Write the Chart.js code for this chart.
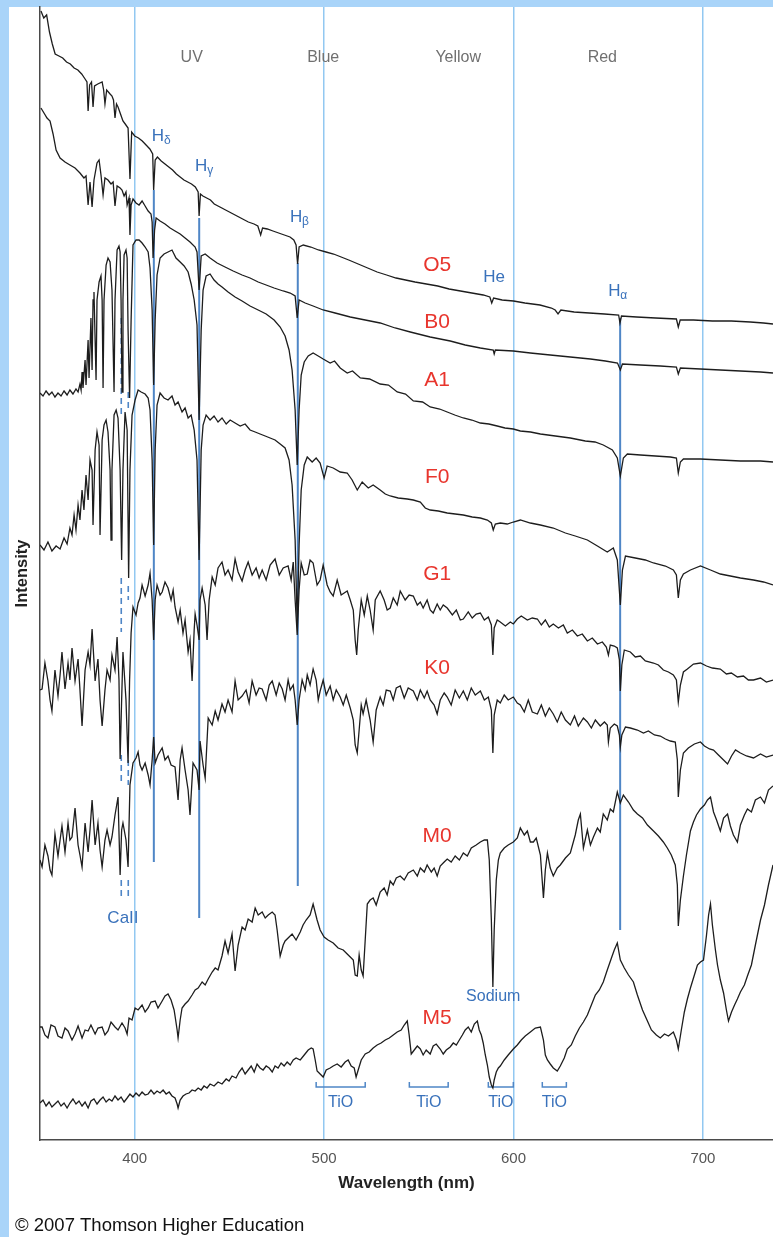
<!DOCTYPE html>
<html>
<head>
<meta charset="utf-8">
<script src="https://cdn.jsdelivr.net/npm/chart.js@4.4.1/dist/chart.umd.min.js"></script>
<style>
html,body{margin:0;padding:0;background:#fff}
#wrap{width:773px;height:1237px;position:relative}
</style>
</head>
<body>
<div id="wrap"><canvas id="c"></canvas></div>
<script>
const FONT = '"Liberation Sans", Arial, Helvetica, sans-serif';

// x axis ticks (nm)
const wavelengthTicks = [400, 500, 600, 700];

// spectra, [wavelength nm, relative intensity]
const o5 = [[350.5,1129],[352,1122],[353.5,1125],[355,1108],[356.5,1096],[358,1086],[360,1084],[362,1082],[364,1078],[366,1076],[368,1072],[370,1070],[372,1066],[373.8,1061],[374.8,1058],[375.4,1029],[376.2,1055],[377.2,1058],[378,1033],[378.8,1054],[380.5,1056],[382.8,1058],[383.6,1050],[384.3,1036],[385.2,1050],[387,1046],[388,1044],[388.8,1040],[389.6,1022],[390.4,1036],[391.2,1033],[392.5,1026],[393.8,1019],[395,1016],[396.5,1012],[397.5,961],[398.4,1008],[400,1004],[402,1002],[404,999],[406,995],[408,991],[409.5,986],[410,950],[410.8,980],[412,983],[414,979],[416,976],[418,973],[420,970],[422,966],[424,963],[426,960],[428,958],[430,956],[432,953],[433.5,948],[434,924],[434.7,946],[436,944],[438,942],[440,940],[442,936],[445,933],[448,930],[451,927],[454,924],[457,921],[460,918],[463,916],[465,914],[466.5,905],[467.5,912],[470,911],[473,909],[476,907],[479,905],[482,903],[484,900],[485.2,895],[486,876],[486.8,893],[489,895],[493,893],[497,890],[501,888],[505,886],[509,883],[513,880],[518,876],[523,872],[528,868],[533,865],[538,862],[543,860],[548,858],[554,856],[560,854],[566,851],[572,849],[578,847],[584,845],[587.5,843],[588.5,837],[589.5,842],[594,840],[600,839],[606,837],[614,835],[620,832],[622,830],[623.5,826],[625,830],[632,828],[640,827],[648,826],[655.5,825],[656.2,817],[657,824],[665,823],[675,822],[686,821],[687,813],[688,820],[695,820],[705,819],[715,819],[725,818],[732,817],[737,816]];

const b0 = [[350.5,1032],[352.1,1027],[353.7,1022],[355.3,1019],[356.9,1006],[358.5,990],[360.6,982],[363.2,978],[365.8,975],[368.5,972],[371.1,967],[373.2,962],[374.3,964],[375.4,935],[376.4,958],[377.5,933],[378.5,960],[380.1,977],[381.2,980],[382.2,965],[383.3,945],[384.3,962],[385.9,960],[387.5,956],[388.6,958],[389.6,934],[390.7,954],[392.3,952],[393.3,950],[394.4,944],[395.4,948],[396,935],[397,942],[397.5,905],[398.1,935],[399.1,941],[400.7,937],[402.3,935],[403.9,939],[405.5,934],[407.1,929],[408.6,926],[409.2,918],[409.7,882],[410.5,910],[411.3,922],[413.4,919],[416,916],[418.7,912],[421.3,909],[424,906],[426.6,902],[429.2,898],[431.9,893],[432.9,888],[434,850],[435.1,884],[437.2,886],[439.8,882],[443.5,877],[447.7,873],[452,869],[456.7,865],[460.9,862],[465.2,858],[469.4,855],[473.6,852],[478.4,849],[482.1,847],[484.7,844],[485.8,822],[486.8,840],[490,837],[494.2,834],[499.5,830],[505.8,827],[513.8,823],[521.7,820],[529.6,817],[537.5,812],[545.5,808],[556,803],[566.6,799],[574.5,795],[582.5,792],[589.3,790],[589.8,786],[590.4,790],[599.9,789],[608.9,787],[619.4,785],[630,783],[640.6,781],[648.5,779],[654.9,777],[656.4,770],[657.5,776],[667,775],[677.5,774],[686,773],[687,766],[688.1,772],[698.7,771],[709.2,770],[719.8,769],[730.4,768],[737,767]];

const a1 = [[350,747],[351.6,744],[353.2,749],[354.8,745],[356.3,748],[357.9,743],[359.5,747],[361.1,744],[362.7,749],[364.3,745],[365.8,750],[367.4,746],[369,751],[370.1,748],[371.1,756],[371.7,750],[372.2,768],[372.7,752],[373.8,780],[374.3,755],[375.4,800],[375.9,762],[376.9,822],[377.5,770],[378,840],[378.5,848],[379.6,760],[380.1,840],[381.2,858],[382.2,864],[382.8,840],[383.3,752],[383.8,840],[384.9,875],[385.9,882],[387,878],[388,850],[389.1,748],[389.6,840],[390.7,890],[391.7,894],[392.3,888],[392.8,840],[393.3,748],[393.8,840],[394.4,885],[395.4,890],[396,882],[396.5,810],[397.3,742],[398.1,820],[399.1,895],[400.7,900],[402.3,900],[403.9,897],[405.5,893],[407.1,888],[408.1,872],[409.2,830],[410,755],[410.8,820],[411.8,865],[413.4,882],[415.5,886],[417.6,888],[419.7,890],[421.8,882],[424,878],[426.1,874],[428.2,868],[429.8,856],[431.4,840],[432.9,815],[434,720],[435.1,810],[436.1,850],[437.7,864],[439.8,866],[441.9,860],[444,856],[446.1,853],[449.3,848],[453,843],[456.7,839],[460.9,834],[465.2,830],[469.4,826],[473.6,820],[476.8,813],[479.4,804],[481.5,790],[483.1,770],[484.7,730],[485.8,675],[486.8,730],[487.9,765],[489.5,778],[491.6,784],[494.2,787],[496.9,784],[499.5,781],[503.2,777],[505.5,779],[508.5,772],[512.2,767],[515,769],[519.1,762],[524,761],[529.6,756],[534,755],[538.6,748],[543,746],[547.1,739],[552,738],[556,733],[561,731],[565,728],[569,725],[573.5,722],[578,720],[582.5,717],[587,716],[591.4,714],[595.5,712],[599.9,711],[603.6,709],[609,708],[614.2,706],[622.1,704],[630,702],[637.9,699],[643,698],[647.4,695],[652.2,690],[654.8,682],[656.4,664],[658,682],[660.1,686],[667,685],[674.9,684],[682.8,683],[686,682],[687,667],[688.1,678],[689.7,681],[698.7,681],[709.2,680],[719.8,679],[730.4,679],[737,678]];

const f0 = [[350,595],[352.1,590],[354.2,598],[356.3,589],[358.5,594],[360.6,591],[362.7,602],[364.3,596],[365.8,612],[366.9,605],[368,625],[369,610],[370.1,635],[371.1,620],[372.2,650],[373.2,630],[374.3,665],[375.4,640],[376.4,680],[377.5,670],[378,615],[379.1,690],[380.1,708],[381.2,695],[381.7,605],[382.8,700],[383.8,715],[384.9,720],[385.9,708],[387,670],[387.5,600],[388,670],[389.1,725],[390.2,730],[391.2,722],[392.3,670],[393.1,580],[393.8,670],[394.9,728],[396,710],[396.8,562],[397.5,670],[398.6,725],[400.2,740],[401.8,750],[403.4,748],[405.5,746],[407.1,742],[408.1,730],[409.2,680],[410,595],[410.8,690],[411.8,735],[413.4,747],[415.5,742],[417.6,740],[419.7,744],[421.3,735],[422.9,738],[425,728],[426.6,732],[428.2,722],[429.8,725],[431.4,710],[432.9,680],[434,580],[435.1,690],[436.1,715],[437.7,725],[439.8,720],[441.9,724],[444,718],[446.1,722],[448.3,716],[450.4,720],[453,717],[455.7,714],[458.3,716],[460.9,710],[463.6,708],[466.2,706],[468.9,704],[471.5,702],[474.1,700],[476.8,696],[479.4,692],[481.5,680],[483.1,655],[484.7,600],[485.8,515],[486.8,595],[487.9,650],[489.5,675],[491.1,683],[493.7,678],[495.8,682],[497.9,677],[500,662],[501.6,674],[504.8,672],[508.5,668],[512.2,667],[514.8,660],[517.5,650],[520.1,658],[523.3,652],[525.9,655],[529.6,650],[532.3,646],[534.9,644],[539.1,642],[543.9,641],[547.1,640],[550.8,638],[553.4,632],[556,630],[560.3,629],[565,627],[569.2,626],[573.5,625],[578.2,623],[582.5,622],[586.2,620],[588.3,617],[589.3,610],[590.4,616],[593,617],[596.7,616],[599.9,618],[603.6,620],[608.9,617],[614.2,615],[621,612],[627.4,607],[632.6,604],[639,600],[644.3,594],[649.5,588],[652.7,592],[654.8,580],[656.4,535],[657.5,570],[659.1,584],[664.3,582],[669.6,580],[673.9,577],[680.2,574],[684.4,570],[686,565],[687,542],[688.1,560],[689.7,566],[693.4,570],[698.7,574],[704,570],[709.2,566],[714.5,564],[719.8,562],[726.7,560],[732,558],[737,555]];

const g1 = [[350,450],[351.1,451],[352.6,477],[354.2,459],[355.3,440],[356.3,429],[357.9,470],[359.5,444],[360.6,465],[361.6,488],[363.2,451],[364.8,477],[365.8,460],[366.9,492],[368.5,459],[370.1,481],[371.1,450],[372.2,414],[373.8,470],[375.4,488],[376.4,475],[377.5,511],[379.1,459],[380.6,481],[381.7,440],[382.8,414],[384.3,450],[385.4,470],[387,460],[388,485],[389.6,470],[390.7,503],[391.7,460],[392.3,381],[393.1,440],[393.8,488],[395.4,440],[396.5,377],[397.3,460],[398.1,507],[399.1,533],[400.7,525],[401.8,537],[402.8,542],[403.9,555],[405.5,544],[407.1,555],[408.1,567],[409.2,540],[410,500],[410.8,540],[411.8,555],[413.4,545],[414.5,548],[416,558],[417.6,552],[419.2,540],[420.3,550],[421.3,533],[422.9,518],[424,530],[425.5,507],[426.6,520],[428.2,488],[429.2,500],[430.3,459],[431.4,510],[431.9,526],[432.9,515],[434,500],[434.5,540],[435.6,552],[437.2,535],[438.2,500],[439.3,540],[440.9,563],[442.5,555],[444,572],[446.1,578],[447.7,565],[449.3,570],[451.4,560],[453,581],[454.6,568],[456.7,559],[458.3,570],[459.9,578],[462,565],[464.1,572],[465.7,562],[467.3,570],[469.4,560],[471.5,575],[474.1,581],[476.3,565],[478.4,572],[481,574],[482.6,560],[483.7,578],[484.7,540],[485.8,505],[486.8,550],[487.9,577],[489.5,565],[491.1,566],[492.6,580],[494.2,577],[496.3,555],[497.9,560],[499.5,575],[501.6,555],[503.2,548],[504.8,544],[506.9,560],[509,545],[512.2,549],[513.8,540],[515.4,530],[516.4,500],[517.2,485],[518,510],[519.6,540],[521.2,525],[522.8,544],[524.3,530],[525.9,510],[527,540],[529.6,549],[531.7,540],[533.3,530],[534.9,532],[536.5,542],[538.6,535],[540.2,549],[542.8,540],[544.9,545],[547.1,544],[549.2,535],[550.8,538],[552.3,532],[554.4,540],[556,530],[557.6,527],[559.7,536],[561.3,530],[562.9,535],[565,532],[567.7,525],[569.8,530],[571.9,520],[573.5,521],[576.1,528],[578.2,522],[580.3,526],[582.5,527],[584.6,520],[586.7,523],[588.3,515],[589.1,485],[589.8,512],[591.4,520],[593,518],[595.7,514],[598.3,518],[599.9,516],[602,521],[604.1,524],[607.3,520],[609.9,522],[612.6,521],[614.7,515],[616.8,520],[618.9,513],[621,516],[623.7,512],[626.3,515],[628.4,507],[631.1,510],[633.7,504],[636.3,506],[639,499],[641.6,502],[644.3,496],[646.9,498],[649,493],[650.1,485],[651.1,495],[653.2,494],[654.8,492],[655.9,480],[656.4,449],[657.2,475],[658.5,490],[661.7,488],[664.3,483],[667,484],[669.6,479],[673.9,477],[676.5,475],[679.1,470],[681.8,468],[684.4,465],[686,460],[687,438],[688.1,455],[689.7,468],[691.8,471],[695,476],[698.7,477],[701.9,474],[705,472],[709.2,471],[712.4,466],[715,467],[718.2,463],[721.4,464],[724,460],[726.7,460],[730.4,462],[733.5,458],[737,460]];

const k0 = [[350,280],[351.1,273],[352.6,295],[354.2,284],[355.3,270],[356.3,265],[357.9,306],[359.5,284],[360.6,300],[361.6,314],[363.2,288],[364.8,317],[365.8,300],[366.9,303],[368.5,332],[370.1,295],[371.1,285],[372.2,273],[373.8,317],[375.4,288],[376.4,310],[377.5,340],[379.1,295],[380.6,317],[381.7,290],[382.8,273],[384.3,300],[385.4,310],[387,295],[388,303],[389.6,325],[391.2,343],[392.3,265],[393.1,310],[393.8,317],[395.4,300],[396.5,273],[397.5,355],[399.1,377],[400.7,382],[401.8,388],[402.8,375],[403.9,370],[405.5,377],[407.1,365],[408.1,355],[409.2,380],[410,403],[410.8,377],[412.3,385],[414.5,392],[416,380],[417.6,384],[419.2,375],[421.3,373],[422.9,340],[424,380],[425,392],[426.6,370],[428.2,350],[429.2,325],[430.8,377],[432.9,370],[434,350],[434.5,399],[436.1,375],[437.2,362],[438.8,422],[440.9,415],[442.5,429],[444,420],[446.1,436],[447.7,428],[449.3,440],[451.4,428],[453,459],[454.6,440],[456.7,444],[458.8,450],[460.4,437],[462,459],[464.1,445],[465.7,452],[467.3,451],[469.4,440],[471,455],[472.6,459],[474.7,445],[476.3,457],[477.9,451],[479.4,440],[481,460],[482.1,450],[483.7,455],[484.7,440],[485.8,415],[486.8,440],[488.4,460],[490,450],[491.1,465],[492.6,455],[494.2,471],[495.8,460],[496.9,440],[497.9,449],[499.5,460],[501.1,445],[503.2,454],[504.8,440],[506.4,450],[508.5,443],[510.1,435],[511.7,445],[513.8,432],[515.4,420],[516.4,395],[517.5,387],[518.5,410],[519.6,435],[520.6,426],[522.2,440],[524.3,420],[525.9,398],[527.5,430],[529.6,443],[531.2,435],[532.8,450],[534.9,449],[536.5,440],[538.1,452],[540.2,454],[542.3,442],[544.4,452],[547.1,449],[549.2,440],[550.8,450],[552.9,442],[554.4,449],[556,440],[558.1,435],[559.7,426],[561.3,440],[563.4,447],[565,443],[567.1,435],[569.2,450],[571.4,442],[573.5,449],[575.6,440],[577.7,452],[579.8,445],[582.5,449],[584.6,440],[586.7,443],[588.3,430],[589.1,387],[589.8,425],[591.4,440],[593,437],[595.1,445],[597.2,440],[599.9,443],[602,437],[603.6,435],[605.7,428],[607.8,440],[609.9,428],[612.6,426],[614.7,435],[616.8,424],[618.9,432],[621,426],[623.1,418],[625.2,428],[627.4,420],[630,415],[632.2,424],[634.2,414],[636.9,422],[639,418],[641.1,412],[643.2,420],[645.8,414],[648,418],[649.5,415],[650.1,398],[651.1,412],[653.2,416],[654.8,414],[655.9,405],[656.4,393],[657.2,405],[659.1,413],[661.7,412],[665.4,410],[668.6,407],[671.2,409],[674.4,405],[677.5,404],[680.2,401],[682.8,399],[685.4,398],[686.5,380],[687,343],[688.1,370],[689.7,387],[692.3,392],[695.5,396],[698.7,398],[700.8,394],[703.5,391],[705.6,390],[708.2,385],[710.9,380],[713,376],[715.1,384],[717.2,390],[719.8,387],[723,384],[726.7,382],[730.4,386],[733.5,383],[737,385]];

const m0 = [[350,113],[351.1,113],[352.6,105],[354.2,102],[355.8,115],[357.9,113],[359.5,104],[361.6,102],[363.2,112],[364.8,109],[366.9,100],[368.5,106],[370.1,114],[372.2,102],[373.8,110],[375.4,109],[376.9,115],[379.1,106],[380.6,112],[382.8,113],[384.3,105],[385.9,109],[387.5,118],[389.6,113],[391.2,110],[393.3,117],[394.9,112],[396,106],[397,122],[398.6,120],[400.2,132],[401.8,130],[403.9,135],[405.5,128],[407.1,132],[408.6,138],[410.8,139],[412.3,132],[414.5,139],[416,144],[417.6,146],[419.2,140],[420.8,130],[421.3,124],[422.4,110],[422.9,102],[424,120],[425,132],[426.6,136],[428.2,139],[430.3,145],[431.9,150],[433.5,152],[435.6,158],[437.2,155],[438.8,161],[440.9,168],[442.5,172],[444,170],[446.1,184],[447.7,199],[449.3,187],[451.4,206],[453,169],[454.6,195],[456.7,213],[458.3,210],[459.9,221],[462,218],[463.6,232],[465.2,225],[467.3,228],[468.9,222],[470.5,225],[472.6,228],[474.1,225],[475.2,210],[476.8,184],[478.4,195],[479.4,199],[481,202],[483.1,206],[485.2,200],[487.4,208],[488.9,215],[490.5,220],[492.6,225],[494.2,236],[496.3,220],[497.9,210],[500,203],[502.1,200],[504.8,197],[507.4,192],[510.1,190],[512.2,186],[513.8,183],[515.4,180],[516.4,165],[517.5,164],[518.5,185],[519.6,170],[520.6,164],[521.7,200],[522.8,236],[524.3,240],[525.9,242],[527.5,235],[529.6,248],[531.7,252],[533.3,245],[534.9,259],[536.5,255],[538.1,262],[540.2,264],[542.3,260],[544.4,267],[547.1,270],[549.2,264],[550.8,272],[552.9,268],[554.4,275],[556.6,268],[558.1,272],[559.7,264],[561.3,274],[563.4,278],[565,281],[567.1,278],[569.2,284],[571.4,280],[573.5,287],[575.6,284],[577.7,292],[580.3,295],[582.5,298],[584.6,300],[586.2,300],[587.2,280],[588.3,220],[589.1,153],[589.8,210],[590.9,260],[592,280],[593,287],[595.1,292],[597.2,295],[599.9,298],[602,302],[603.6,312],[605.7,305],[607.3,309],[608.9,298],[610.5,298],[612,302],[614.2,285],[615.8,242],[616.8,270],[617.9,287],[619.4,272],[621,264],[623.1,272],[624.7,275],[627.4,282],[630,287],[632.6,305],[634.2,320],[635.3,326],[636.9,292],[639,310],[640.6,295],[642.2,303],[644.3,312],[645.8,308],[647.4,326],[649.5,320],[651.1,331],[652.7,328],[654.8,348],[656.4,337],[658,345],[660.7,338],[663.3,330],[665.4,326],[668.1,322],[670.7,315],[673.9,309],[676.5,304],[679.1,298],[681.2,292],[683.3,285],[685.4,275],[686.5,255],[687,214],[688.1,240],[689.7,264],[691.3,285],[693.4,309],[695,318],[696.6,325],[698.7,331],[700.8,335],[702.4,340],[704,343],[705.6,328],[707.2,320],[709.2,309],[710.9,322],[713,326],[714.5,314],[716.1,305],[718.2,298],[719.8,315],[721.9,325],[723.5,331],[725.6,328],[727.7,340],[730.4,343],[732.5,337],[734.6,350],[737,354]];

const m5 = [[350,37],[351.6,40],[353.2,34],[354.8,38],[356.3,33],[357.9,36],[359.5,39],[361.1,34],[362.7,37],[364.3,32],[365.8,37],[367.4,41],[369,36],[370.6,39],[372.2,34],[373.8,38],[375.4,32],[376.9,39],[378.5,41],[380.1,36],[381.7,40],[383.3,43],[384.9,38],[386.5,41],[388,39],[389.6,44],[391.2,40],[392.8,43],[394.4,38],[396,42],[397.5,46],[399.1,43],[400.7,47],[402.3,44],[403.9,48],[405.5,45],[407.1,46],[408.6,50],[410.2,46],[411.8,49],[413.4,47],[415,50],[416.6,46],[418.2,48],[419.7,44],[421.3,42],[422.4,36],[422.9,32],[424,40],[425.5,44],[427.1,46],[428.7,47],[430.3,50],[431.9,49],[433.5,52],[435.1,50],[436.6,54],[438.2,52],[439.8,56],[441.9,54],[444,58],[446.1,56],[448.3,61],[449.8,59],[451.4,64],[453.5,62],[455.1,68],[456.7,72],[458.3,66],[459.9,70],[461.5,74],[463.1,68],[464.6,76],[466.2,72],[467.8,70],[469.4,74],[471,72],[472.6,68],[474.1,74],[475.7,72],[477.3,77],[478.9,74],[480.5,78],[482.1,75],[483.7,80],[485.2,82],[487.4,80],[489.5,85],[491.6,90],[493.2,92],[494.2,91],[495.3,80],[496.3,69],[497.9,66],[499.5,63],[501.1,70],[503.2,72],[504.8,74],[506.9,76],[509,73],[511.1,78],[512.7,80],[514.3,74],[515.9,72],[516.9,63],[518,70],[519.6,80],[521.7,86],[523.8,88],[525.9,92],[528,95],[530.1,97],[532.3,100],[534.4,102],[536.5,105],[538.6,108],[540.7,110],[542.3,115],[543.9,119],[544.9,105],[546,86],[547.6,90],[549.2,94],[550.8,91],[552.3,85],[553.9,90],[556,86],[557.6,94],[559.2,96],[561.3,91],[562.9,86],[564.5,90],[566.6,93],[568.2,97],[569.8,95],[571.4,100],[573,105],[574.5,110],[576.1,113],[577.7,108],[579.3,116],[580.9,119],[581.9,110],[583,105],[584,97],[585.1,85],[586.2,75],[587.2,63],[588.3,55],[589.1,52],[589.8,60],[590.9,68],[592,72],[593,74],[595.1,80],[597.2,85],[599.9,91],[602,95],[604.1,100],[606.2,104],[608.9,108],[611.5,112],[614.2,113],[615.8,100],[616.8,85],[617.9,80],[619.4,76],[621,72],[623.1,69],[624.7,74],[626.8,82],[628.4,91],[630.5,95],[632.6,104],[634.8,112],[636.9,118],[639,125],[641.1,135],[643.2,145],[645.3,150],[647.4,158],[649.5,170],[651.7,182],[653.2,190],[654.8,197],[656.4,180],[658.5,172],[660.7,165],[663.3,158],[665.4,145],[668.1,130],[670.7,119],[672.8,110],[675.4,105],[677.5,102],[679.7,106],[681.8,104],[684.4,108],[686,100],[687,91],[688.6,110],[690.2,128],[691.8,141],[693.4,152],[695.5,165],[697.1,175],[698.7,178],[700.3,180],[701.9,205],[703,225],[704,236],[705,215],[706.6,190],[707.7,175],[709.2,160],[710.9,147],[712.4,130],[713.5,119],[715.1,128],[716.7,135],[718.2,141],[719.8,148],[721.9,155],[723.5,164],[725.6,175],[727.7,195],[730.4,220],[732.5,235],[734.6,255],[737,275]];

const spectra = [o5, b0, a1, f0, g1, k0, m0, m5];
const classNames = ['O5', 'B0', 'A1', 'F0', 'G1', 'K0', 'M0', 'M5'];
const classLabelLevel = [875, 818, 760, 663, 566, 472, 304, 122];

// annotations in data units
const bands = [['UV', 430.1], ['Blue', 499.5], ['Yellow', 570.8], ['Red', 646.9]];
const lineMarks = [ // [wavelength, from, to]
  [410.1, 950, 278], [434.05, 922, 222], [486.1, 877, 254], [656.3, 822, 210]
];
const caK = [[822, 726], [562, 508], [385, 355], [260, 242]];
const caH = [[748, 730], [554, 540], [380, 355], [260, 242]];
const hLabels = [['δ', 412.3, 1004], ['γ', 435.1, 974], ['β', 485.2, 923], ['α', 653.2, 849]];
const tioBands = [[495.8, 521.7], [545, 565.5], [586.7, 599.9], [615.2, 627.9]];

const decor = {
  id: 'decor',
  beforeDraw(chart) {
    const c = chart.ctx;
    c.save();
    c.fillStyle = '#fff';
    c.fillRect(0, 0, chart.width, chart.height);
    c.fillStyle = '#a9d4f9';
    c.fillRect(0, 0, chart.width, 7);
    c.fillRect(0, 0, 9, chart.height);
    c.restore();
  },
  beforeDatasetsDraw(chart) {
    const c = chart.ctx, x = chart.scales.x, y = chart.scales.y;
    c.save();
    c.strokeStyle = '#4f86c6';
    c.lineWidth = 2;
    lineMarks.forEach(([w, a, b]) => {
      const px = x.getPixelForValue(w);
      c.beginPath(); c.moveTo(px, y.getPixelForValue(a)); c.lineTo(px, y.getPixelForValue(b)); c.stroke();
    });
    c.lineWidth = 1.6;
    c.setLineDash([6, 4]);
    [[392.9, caK], [396.6, caH]].forEach(([w, segs]) => {
      const px = x.getPixelForValue(w);
      segs.forEach(([a, b]) => {
        c.beginPath(); c.moveTo(px, y.getPixelForValue(a)); c.lineTo(px, y.getPixelForValue(b)); c.stroke();
      });
    });
    c.setLineDash([]);
    c.lineWidth = 1.5;
    const by = y.getPixelForValue(53);
    tioBands.forEach(([a, b]) => {
      const x1 = x.getPixelForValue(a), x2 = x.getPixelForValue(b);
      c.beginPath();
      c.moveTo(x1, by - 5); c.lineTo(x1, by); c.lineTo(x2, by); c.lineTo(x2, by - 5);
      c.stroke();
    });
    c.restore();
  },
  afterDraw(chart) {
    const c = chart.ctx, x = chart.scales.x, y = chart.scales.y;
    const put = (s, px, py, size, color, weight, align) => {
      c.font = (weight || '') + ' ' + size + 'px ' + FONT;
      c.fillStyle = color;
      c.textAlign = align || 'center';
      c.textBaseline = 'middle';
      c.fillText(s, px, py);
    };
    c.save();
    bands.forEach(([t, w]) => put(t, x.getPixelForValue(w), y.getPixelForValue(1082), 16, '#707070'));
    classNames.forEach((t, i) => put(t, x.getPixelForValue(559.7), y.getPixelForValue(classLabelLevel[i]), 21, '#e8352d'));
    const blue = '#3a72bb';
    hLabels.forEach(([g, w, v]) => {
      const px = x.getPixelForValue(w), py = y.getPixelForValue(v);
      put('H', px, py, 17, blue);
      put(g, px + 6, py + 5, 12, blue, '', 'left');
    });
    put('He', x.getPixelForValue(589.8), y.getPixelForValue(863), 17, blue);
    put('CaII', x.getPixelForValue(393.8), y.getPixelForValue(222), 17, blue);
    put('Sodium', x.getPixelForValue(589.3), y.getPixelForValue(143), 16, blue);
    tioBands.forEach(([a, b]) => put('TiO', x.getPixelForValue((a + b) / 2), y.getPixelForValue(37), 16, blue));
    put('\u00a9 2007 Thomson Higher Education', 15, 1226, 18.5, '#111', '', 'left');
    c.restore();
  }
};

new Chart(document.getElementById('c'), {
  type: 'scatter',
  data: {
    datasets: spectra.map((s, i) => ({
      label: classNames[i],
      data: s.map(([w, v]) => ({x: w, y: v})),
      showLine: true,
      borderColor: '#1d1d1d',
      borderWidth: 1.3,
      pointRadius: 0,
      tension: 0
    }))
  },
  options: {
    responsive: true,
    maintainAspectRatio: false,
    animation: false,
    devicePixelRatio: 1,
    layout: {padding: {top: 7, left: 0, right: 0, bottom: 0}},
    plugins: {legend: {display: false}, tooltip: {enabled: false}},
    scales: {
      x: {
        type: 'linear', min: 350, max: 737,
        afterBuildTicks: s => { s.ticks = wavelengthTicks.map(v => ({value: v})); },
        afterFit: s => { s.height = 97; },
        grid: {color: '#92c8f1', lineWidth: 1.5, drawTicks: false},
        border: {color: '#4a4a4a', width: 1.5},
        ticks: {padding: 10, color: '#555', font: {family: FONT, size: 15}},
        title: {display: true, text: 'Wavelength (nm)', color: '#222', font: {family: FONT, size: 17, weight: 'bold'}, padding: {bottom: 43}}
      },
      y: {
        min: 0, max: 1133,
        afterFit: s => { s.width = 40; },
        grid: {display: false},
        ticks: {display: false},
        border: {color: '#4a4a4a', width: 1.5},
        title: {display: true, text: 'Intensity', color: '#222', font: {family: FONT, size: 16.5, weight: 'bold'}, padding: {top: 13}}
      }
    }
  },
  plugins: [decor]
});
</script>
</body>
</html>
